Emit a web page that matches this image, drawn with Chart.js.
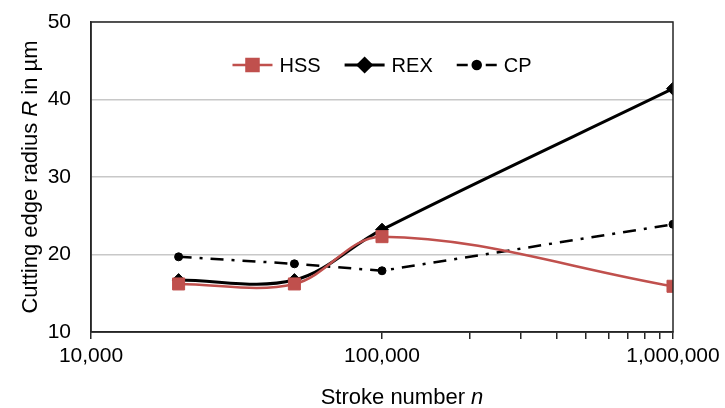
<!DOCTYPE html>
<html>
<head>
<meta charset="utf-8">
<script src="https://cdn.jsdelivr.net/npm/chart.js@4/dist/chart.umd.min.js"></script>
<style>
  html, body { margin: 0; padding: 0; background: #fff; }
  #wrap { width: 725px; height: 408px; position: relative; }
</style>
</head>
<body>
<div id="wrap"><canvas id="chart"></canvas></div>
<script>
// stroke numbers (x) and measured cutting edge radius in µm
const strokes = [20000, 50000, 100000, 1000000];
const hss = [16.2, 16.2, 22.3, 15.9];
const rex = [16.7, 16.7, 23.2, 41.4];
const cp = [19.7, 18.8, 17.9, 23.9];

const xTicks = [10000, 100000, 200000, 300000, 400000, 500000, 600000, 700000, 800000, 900000, 1000000];
const xLabels = [10000, 100000, 1000000];
const yTicks = [10, 20, 30, 40, 50];

const FONT = '"Liberation Sans", Arial, sans-serif';
const RED = '#C0504D';

function toPoints(values) {
  return strokes.map((s, i) => ({ x: s, y: values[i] }));
}

// draws "plain + italic" text, starting at x
function richText(ctx, parts, x, y) {
  parts.forEach(p => {
    ctx.font = (p.italic ? 'italic ' : '') + '22px ' + FONT;
    ctx.fillText(p.text, x, y);
    x += ctx.measureText(p.text).width;
  });
}
function richWidth(ctx, parts) {
  return parts.reduce((w, p) => {
    ctx.font = (p.italic ? 'italic ' : '') + '22px ' + FONT;
    return w + ctx.measureText(p.text).width;
  }, 0);
}

// axis titles with the italic symbols
const titlePlugin = {
  id: 'axisTitles',
  afterDraw(chart) {
    const ctx = chart.ctx;
    const a = chart.chartArea;
    ctx.save();
    ctx.fillStyle = '#000';
    ctx.textAlign = 'left';
    ctx.textBaseline = 'alphabetic';
    const xt = [{ text: 'Stroke number ' }, { text: 'n', italic: true }];
    const xw = richWidth(ctx, xt);
    richText(ctx, xt, (a.left + a.right) / 2 + 20 - xw / 2, chart.height - 4);

    const yt = [{ text: 'Cutting edge radius ' }, { text: 'R', italic: true }, { text: ' in µm' }];
    const yw = richWidth(ctx, yt);
    ctx.translate(37, (a.top + a.bottom) / 2);
    ctx.rotate(-Math.PI / 2);
    richText(ctx, yt, -yw / 2, 0);
    ctx.restore();
  }
};

// excel style legend drawn inside the plot area
const legendPlugin = {
  id: 'innerLegend',
  afterDraw(chart) {
    const ctx = chart.ctx;
    const area = chart.chartArea;
    const items = chart.data.datasets;
    const sample = 40, gap = 7, spacing = 24;
    ctx.save();
    ctx.font = '20px ' + FONT;
    const widths = items.map(ds => sample + gap + ctx.measureText(ds.label).width);
    const total = widths.reduce((a, b) => a + b, 0) + spacing * (items.length - 1);
    let x = (area.left + area.right) / 2 - total / 2;
    const y = area.top + 43;
    items.forEach((ds, i) => {
      ctx.strokeStyle = ds.borderColor;
      ctx.lineWidth = ds.borderWidth;
      ctx.setLineDash([]);
      ctx.beginPath();
      if (ds.borderDash && ds.borderDash.length) {
        ctx.moveTo(x, y); ctx.lineTo(x + 11, y);
        ctx.moveTo(x + sample - 11, y); ctx.lineTo(x + sample, y);
      } else {
        ctx.moveTo(x, y); ctx.lineTo(x + sample, y);
      }
      ctx.stroke();
      Chart.helpers.drawPoint(ctx, {
        pointStyle: ds.pointStyle,
        radius: ds.pointRadius,
        borderWidth: 1
      }, x + sample / 2, y);
      ctx.fillStyle = ds.pointBackgroundColor;
      ctx.strokeStyle = ds.pointBorderColor;
      ctx.fill();
      ctx.fillStyle = '#000';
      ctx.textBaseline = 'middle';
      ctx.textAlign = 'left';
      ctx.fillText(ds.label, x + sample + gap, y + 1);
      x += widths[i] + spacing;
    });
    ctx.restore();
  }
};

// box round the plot area
const framePlugin = {
  id: 'frame',
  afterDraw(chart) {
    const a = chart.chartArea;
    const ctx = chart.ctx;
    ctx.save();
    ctx.strokeStyle = '#262626';
    ctx.lineWidth = 1.5;
    ctx.strokeRect(a.left, a.top, a.right - a.left, a.bottom - a.top);
    ctx.restore();
  }
};

new Chart(document.getElementById('chart'), {
  type: 'line',
  data: {
    datasets: [
      {
        label: 'HSS',
        data: toPoints(hss),
        borderColor: RED,
        borderWidth: 2.5,
        tension: 0.35,
        pointStyle: 'rect',
        pointRadius: 8.5,
        pointBackgroundColor: RED,
        pointBorderColor: RED,
        pointBorderWidth: 1
      },
      {
        label: 'REX',
        data: toPoints(rex),
        borderColor: '#000',
        borderWidth: 3,
        tension: 0.35,
        pointStyle: 'rectRot',
        pointRadius: 6.5,
        pointBackgroundColor: '#000',
        pointBorderColor: '#000',
        pointBorderWidth: 1
      },
      {
        label: 'CP',
        data: toPoints(cp),
        borderColor: '#000',
        borderWidth: 2.5,
        borderDash: [13, 8, 3, 8],
        tension: 0,
        pointStyle: 'circle',
        pointRadius: 4,
        pointBackgroundColor: '#000',
        pointBorderColor: '#000',
        pointBorderWidth: 1
      }
    ]
  },
  options: {
    responsive: true,
    maintainAspectRatio: false,
    animation: false,
    layout: { padding: { left: 0, right: 52, top: 22, bottom: 0 } },
    plugins: {
      legend: { display: false },
      tooltip: { enabled: false }
    },
    scales: {
      x: {
        type: 'logarithmic',
        min: 10000,
        max: 1000000,
        afterBuildTicks: scale => {
          scale.ticks = xTicks.map(v => ({ value: v }));
        },
        afterFit: scale => { scale.height = 76; },
        ticks: {
          autoSkip: false,
          maxRotation: 0,
          padding: 5,
          color: '#000',
          font: { family: FONT, size: 21 },
          callback: v => xLabels.includes(v) ? v.toLocaleString('en-US') : ''
        },
        grid: {
          drawOnChartArea: false,
          tickLength: 7,
          color: '#262626',
          lineWidth: 1.5
        },
        border: { color: '#262626', width: 1.5 }
      },
      y: {
        min: 10,
        max: 50,
        afterBuildTicks: scale => {
          scale.ticks = yTicks.map(v => ({ value: v }));
        },
        afterFit: scale => {
          scale.width = 91;
          scale.paddingTop = 0;
          scale.paddingBottom = 0;
        },
        ticks: {
          padding: 20,
          color: '#000',
          font: { family: FONT, size: 21 }
        },
        grid: {
          drawTicks: false,
          color: '#c8c8c8',
          lineWidth: 1.5
        },
        border: { color: '#262626', width: 1.5 }
      }
    }
  },
  plugins: [legendPlugin, framePlugin, titlePlugin]
});
</script>
</body>
</html>
